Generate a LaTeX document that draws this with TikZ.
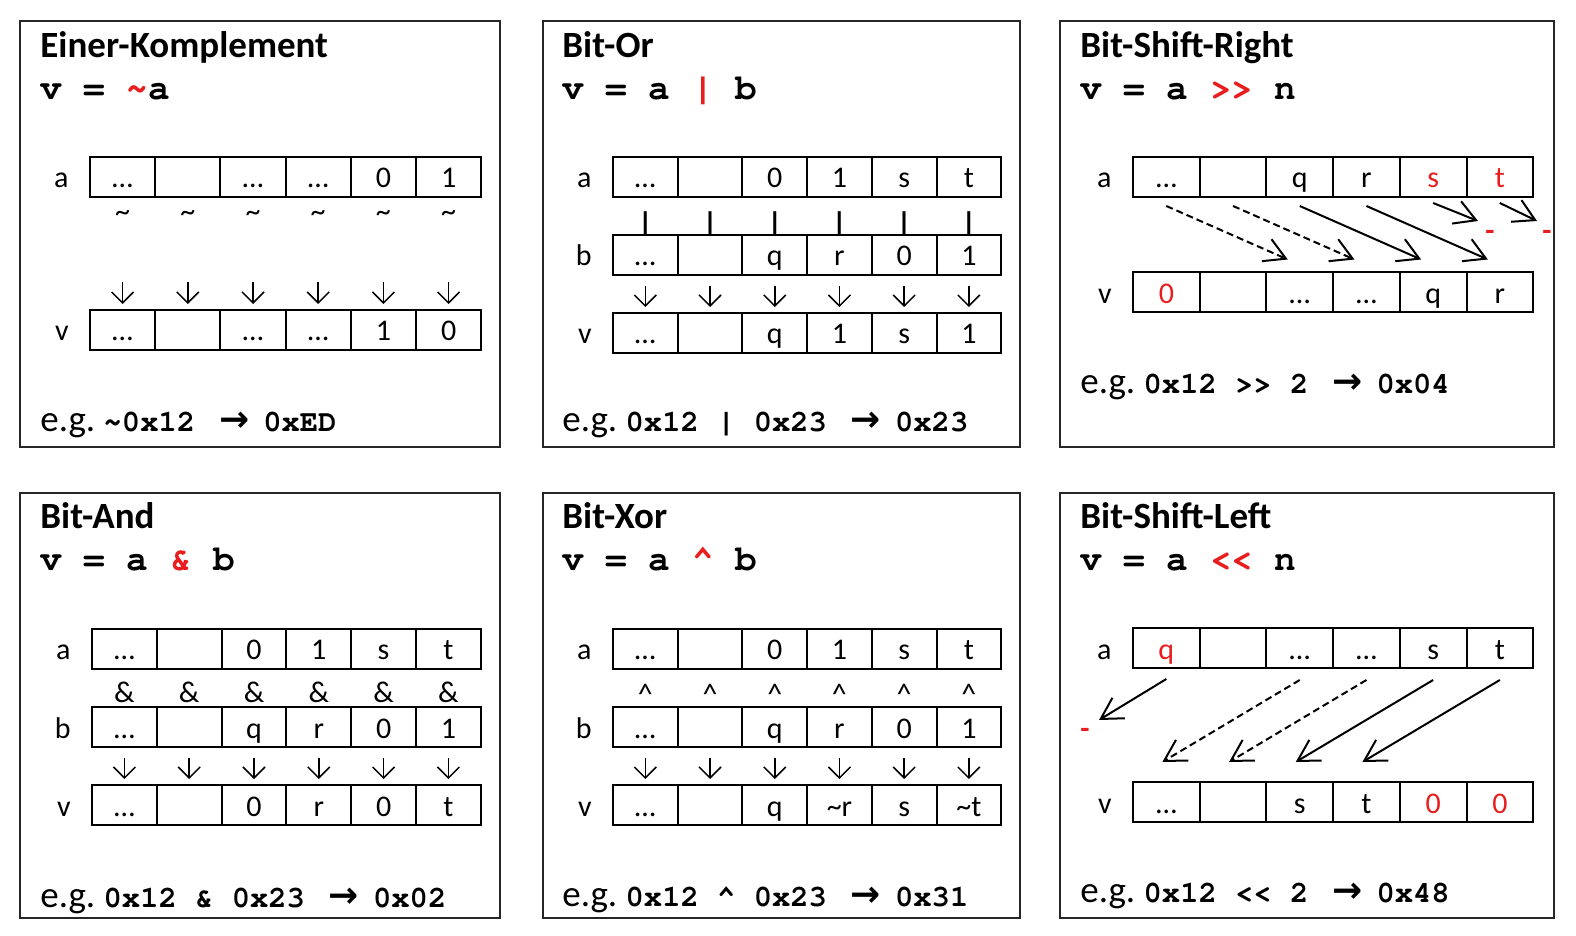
\documentclass[tikz,border=0pt]{standalone}
\usepackage{fontspec}
\setmainfont{Carlito}
\newfontfamily\codefont{texgyrecursor}[Extension=.otf, UprightFont=*-regular, BoldFont=*-bold]
\newfontfamily\arrfont{DejaVu Sans}
\usepackage{tikz}
\usetikzlibrary{arrows.meta, positioning}
\definecolor{opred}{RGB}{232,30,30}

\newcommand{\titlefont}{\fontsize{18.5}{21}\selectfont\bfseries}
\newcommand{\formfont}{\fontsize{18}{21}\selectfont\codefont\bfseries}
\newcommand{\cellfont}{\fontsize{15}{18}\selectfont}
\newcommand{\egfont}{\fontsize{18.5}{21}\selectfont}
\newcommand{\egcode}{\fontsize{15.25}{18}\selectfont\codefont\bfseries}
\newcommand{\op}[1]{\textcolor{opred}{#1}}
\newcommand{\yields}{\hspace{12pt}{\fontsize{18}{21}\selectfont\arrfont\bfseries →}\hspace{7pt}}

% one register: name, label, left x, centre y, cell width, contents
\newcommand{\bitrow}[6]{%
  \foreach \txt [count=\i] in {#6}
    \node[bitcell, minimum width=#5*0.5pt] (#1\i) at ({#3+(\i-0.5)*#5}, #4) {\txt};
  \node[lbl, left=10pt of #11] (#1l) {#2};
}

\begin{document}
\begin{tikzpicture}[
    x=0.5pt, y=-0.5pt,
    panel/.style={draw=black!85, line width=1pt},
    paneltitle/.style={anchor=base west, inner sep=0pt, font=\titlefont},
    formula/.style={anchor=base west, inner sep=0pt, font=\formfont},
    egline/.style={anchor=base west, inner sep=0pt, font=\egfont},
    bitcell/.style={draw, line width=1pt, inner sep=0pt,
                    text height=15.5pt, text depth=4.5pt, font=\cellfont},
    lbl/.style={inner sep=0pt, text height=15.5pt, text depth=4.5pt, font=\cellfont},
    opsym/.style={inner sep=0pt, font=\cellfont},
    cut/.style={inner sep=0pt, font=\cellfont\bfseries, text=opred},
    dn/.style={line width=0.75pt, -{Straight Barb[length=5.5pt,width=11pt]},
               shorten <=5pt, shorten >=2.5pt},
    sh/.style={line width=1pt, -{Straight Barb[length=10.5pt,width=12pt]}},
    ghost/.style={dash pattern=on 3.5pt off 2pt},
    real/.style={}
  ]
  \useasboundingbox (0,0) rectangle (1576,936);

  % Einer-Komplement
  \draw[panel] (20,21) rectangle (500,447);
  \node[paneltitle] (t1) at (40,58) {Einer-Komplement};
  \node[formula] (f1) at (40,100) {v = \op{\textasciitilde}a};
  \bitrow{ka}{a}{90}{177}{65.2}{…,{},…,…,0,1}
  \bitrow{kv}{v}{90}{330}{65.2}{…,{},…,…,1,0}
  \foreach \i in {1,...,6} {
    \node[opsym, below=6pt of ka\i] (kt\i) {\textasciitilde};
    \draw[dn, shorten <=42pt] (ka\i) -- (kv\i);
  }
  \node[egline] (e1) at (40,431) {e.g.\ {\egcode\textasciitilde0x12}\yields{\egcode 0xED}};

  % Bit-Or
  \draw[panel] (543,21) rectangle (1020,447);
  \node[paneltitle] (t2) at (562,58) {Bit-Or};
  \node[formula] (f2) at (562,100) {v = a \op{|} b};
  \bitrow{oa}{a}{613}{177}{64.7}{…,{},0,1,s,t}
  \bitrow{ob}{b}{613}{255}{64.7}{…,{},q,r,0,1}
  \bitrow{ov}{v}{613}{333}{64.7}{…,{},q,1,s,1}
  \foreach \i in {1,...,6} {
    \node[opsym, font=\cellfont\codefont\bfseries, below=6.5pt of oa\i] (ot\i) {|};
    \draw[dn] (ob\i) -- (ov\i);
  }
  \node[egline] (e2) at (562,432) {e.g.\ {\egcode 0x12 | 0x23}\yields{\egcode 0x23}};

  % Bit-Shift-Right
  \draw[panel] (1060,21) rectangle (1554,447);
  \node[paneltitle] (t3) at (1080,58) {Bit-Shift-Right};
  \node[formula] (f3) at (1080,100) {v = a \op{>>} n};
  \bitrow{ra}{a}{1133}{177}{66.7}{…,{},q,r,\op{s},\op{t}}
  \bitrow{rv}{v}{1133}{292.5}{66.7}{\op{0},{},…,…,q,r}
  \node[cut] (rx1) at (1490,235) {-};
  \node[cut] (rx2) at (1547,235) {-};
  \foreach \s/\t/\k in {1/3/ghost, 2/4/ghost, 3/5/real, 4/6/real}
    \draw[sh, \k] ([yshift=-4pt]ra\s.south) -- ([xshift=-6pt,yshift=6pt]rv\t.north);
  \draw[sh] ([yshift=-2.5pt]ra5.south) -- ([xshift=-6pt,yshift=7pt]rx1.center);
  \draw[sh] ([yshift=-2.5pt]ra6.south) -- ([xshift=-5pt,yshift=7pt]rx2.center);
  \node[egline] (e3) at (1080,394) {e.g.\ {\egcode 0x12 >> 2}\yields{\egcode 0x04}};

  % Bit-And
  \draw[panel] (20,493) rectangle (500,918);
  \node[paneltitle] (t4) at (40,529) {Bit-And};
  \node[formula] (f4) at (40,570) {v = a \op{\&} b};
  \bitrow{na}{a}{92}{648.5}{64.8}{…,{},0,1,s,t}
  \bitrow{nb}{b}{92}{727}{64.8}{…,{},q,r,0,1}
  \bitrow{nv}{v}{92}{805}{64.8}{…,{},0,r,0,t}
  \foreach \i in {1,...,6} {
    \node[opsym, below=6pt of na\i] (nt\i) {\&};
    \draw[dn] (nb\i) -- (nv\i);
  }
  \node[egline] (e4) at (40,907) {e.g.\ {\egcode 0x12 \& 0x23}\yields{\egcode 0x02}};

  % Bit-Xor
  \draw[panel] (543,493) rectangle (1020,918);
  \node[paneltitle] (t5) at (562,529) {Bit-Xor};
  \node[formula] (f5) at (562,570) {v = a \op{\textasciicircum} b};
  \bitrow{xa}{a}{613}{648.5}{64.7}{…,{},0,1,s,t}
  \bitrow{xb}{b}{613}{727}{64.7}{…,{},q,r,0,1}
  \bitrow{xv}{v}{613}{805}{64.7}{…,{},q,\textasciitilde r,s,\textasciitilde t}
  \foreach \i in {1,...,6} {
    \node[opsym, below=7pt of xa\i] (xt\i) {\textasciicircum};
    \draw[dn] (xb\i) -- (xv\i);
  }
  \node[egline] (e5) at (562,906) {e.g.\ {\egcode 0x12 \textasciicircum\ 0x23}\yields{\egcode 0x31}};

  % Bit-Shift-Left
  \draw[panel] (1060,493) rectangle (1554,918);
  \node[paneltitle] (t6) at (1080,529) {Bit-Shift-Left};
  \node[formula] (f6) at (1080,570) {v = a \op{<<} n};
  \bitrow{la}{a}{1133}{648}{66.7}{\op{q},{},…,…,s,t}
  \bitrow{lv}{v}{1133}{802}{66.7}{…,{},s,t,\op{0},\op{0}}
  \node[cut] (lx) at (1085,733) {-};
  \draw[sh] ([yshift=-5pt]la1.south) -- ([xshift=7pt,yshift=6.5pt]lx.center);
  \foreach \s/\t/\k in {3/1/ghost, 4/2/ghost, 5/3/real, 6/4/real}
    \draw[sh, \k] ([yshift=-5.5pt]la\s.south) -- ([xshift=-2pt,yshift=9.5pt]lv\t.north);
  \node[egline] (e6) at (1080,902) {e.g.\ {\egcode 0x12 << 2}\yields{\egcode 0x48}};

\end{tikzpicture}
\end{document}
